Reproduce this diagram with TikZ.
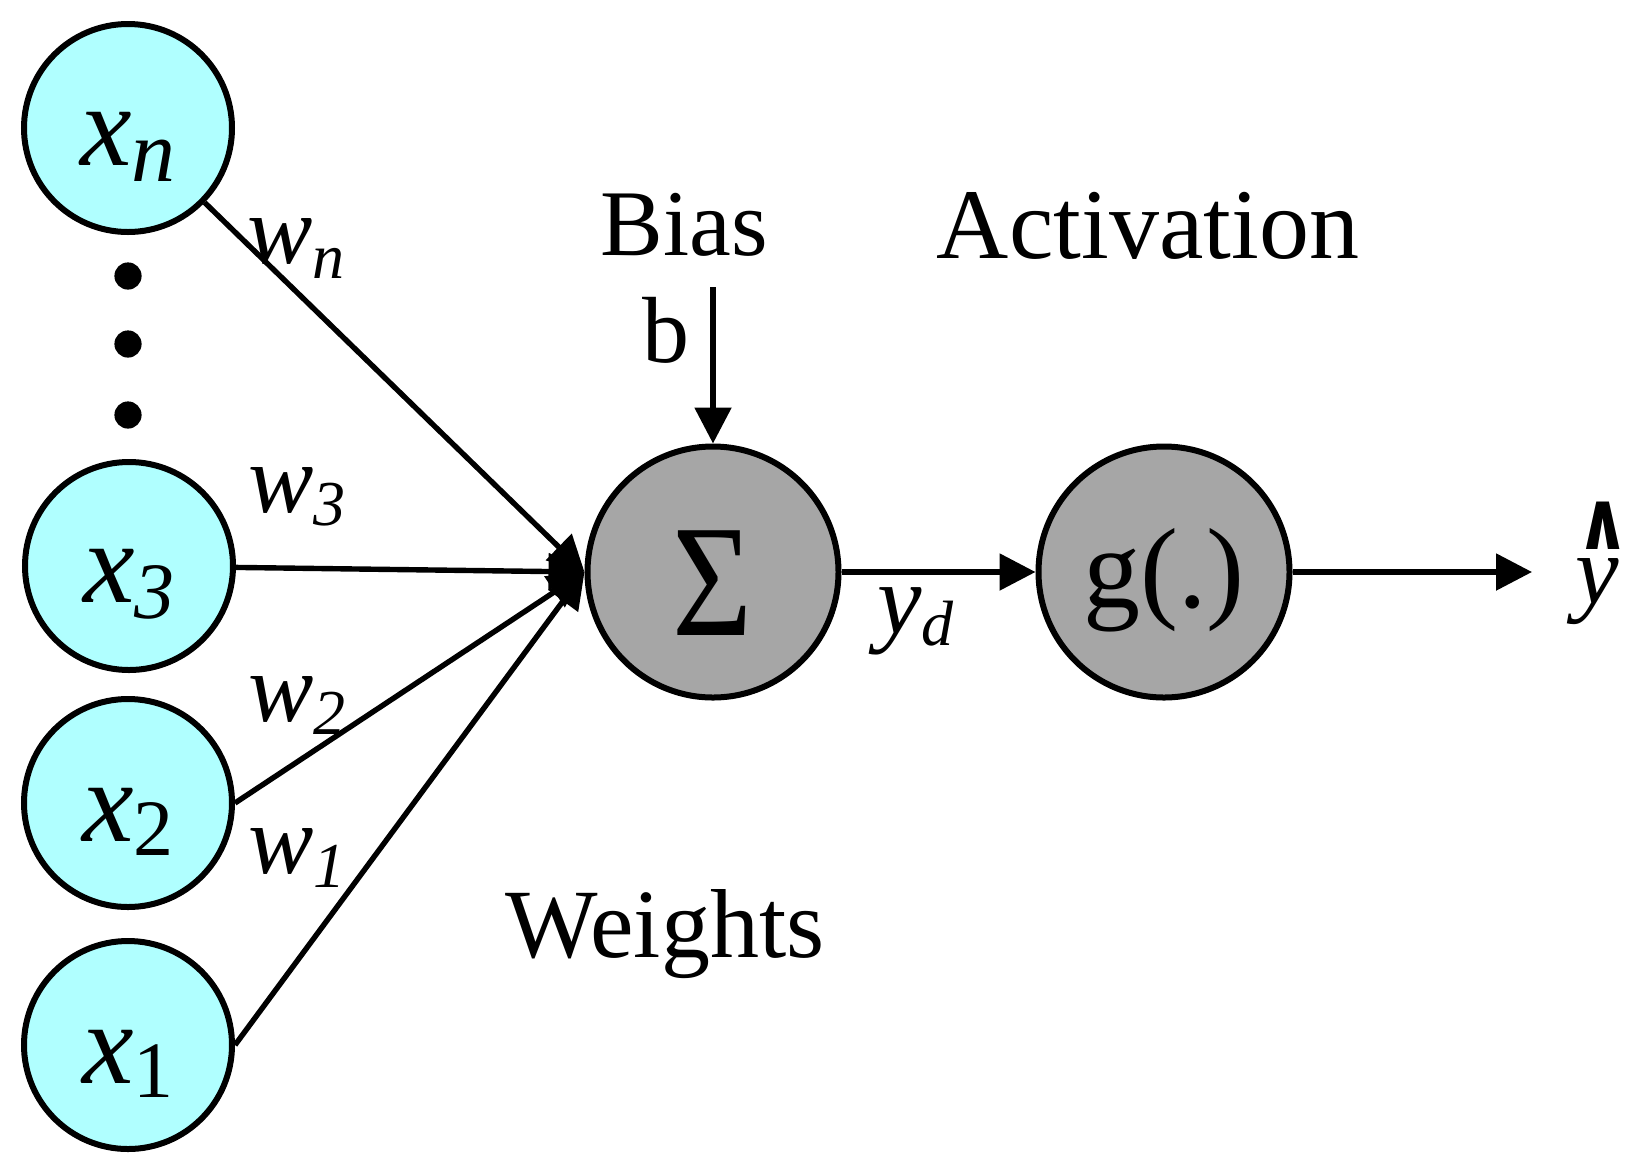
\documentclass[tikz,border=0pt]{standalone}
\usepackage{fontspec}
\setmainfont{Liberation Serif}
\newfontfamily\hatfont{DejaVu Sans}
\usetikzlibrary{arrows.meta}

\definecolor{incyan}{RGB}{176,255,255}
\definecolor{sumgray}{RGB}{166,166,166}
% lowered subscript: size, drop, text
\newcommand{\sublow}[3]{{\fontsize{#1}{#1}\selectfont\raisebox{-#2}{#3}}}

\tikzset{
  innode/.style={circle,draw,line width=3pt,fill=incyan,minimum size=104pt,inner sep=0pt},
  opnode/.style={circle,draw,line width=3pt,fill=sumgray,minimum size=125.5pt,inner sep=0pt},
  arr/.style={line width=2.7pt,-{Triangle[length=18pt,width=18pt]}},
  wlab/.style={anchor=base west,inner sep=0pt,font=\fontsize{49}{49}\selectfont\itshape},
  txt/.style={anchor=base,inner sep=0pt},
}

\begin{document}
\begin{tikzpicture}[x=0.5pt,y=0.5pt,yscale=-1,xscale=1]
\useasboundingbox (0,0) rectangle (1643,1174);

% Input nodes
\node[innode] (xn) at (128,128) {\smash{\raisebox{-18.5pt}{\fontsize{58}{58}\selectfont\textit{x}\sublow{44}{8pt}{\textit{n}}}}};
\node[innode] (x3) at (129,566) {\smash{\raisebox{-18pt}{\fontsize{58}{58}\selectfont\textit{x}\sublow{40}{8pt}{\textit{3}}}}};
\node[innode] (x2) at (128,803) {\smash{\raisebox{-19pt}{\fontsize{58}{58}\selectfont\textit{x}\sublow{40}{7pt}{2}}}};
\node[innode] (x1) at (128,1045) {\smash{\raisebox{-19pt}{\fontsize{58}{58}\selectfont\textit{x}\sublow{40}{7pt}{1}}}};

% dots
\foreach \dy in {276,344,415}
  \fill (128,\dy) circle (6.8pt);

% Sum and activation
\node[opnode] (sig) at (713,572) {\smash{\raisebox{-31.5pt}{\fontsize{80}{80}\selectfont\scalebox{0.86}[1]{Σ}}}};
\node[opnode] (act) at (1164,572) {\smash{\raisebox{-17.5pt}{\fontsize{57}{57}\selectfont g(.)}}};

% Weighted inputs
\draw[arr] (xn) -- (sig.west);
\draw[arr] (x3) -- (sig.west);
\draw[arr] (x2.east) -- (sig.west);
\draw[arr] (x1.east) -- (sig.west);

% Bias
\coordinate (bin) at (713,287);
\draw[arr] (bin) -- (sig.north);

% y_d and output
\draw[arr] (sig) -- (act);
\coordinate (out) at (1532,572);
\draw[arr] (act) -- (out);

% Text Node
\node[wlab] (wn) at (247,263) {w\sublow{32}{7.5pt}{n}};
\node[wlab] (w3) at (248,512) {w\sublow{32}{6.5pt}{3}};
\node[wlab] (w2) at (248,721) {w\sublow{32}{6.5pt}{2}};
\node[wlab] (w1) at (248,873) {w\sublow{32}{7pt}{1}};
\node[wlab,font=\fontsize{50}{50}\selectfont\itshape] (yd) at (877,633) {y\sublow{32}{6pt}{d}};
% Text Node
\node[wlab] (yhat) at (1575,603) {y\kern-8pt\makebox[0pt]{\raisebox{27pt}{\scalebox{0.8}[1]{\hatfont\upshape\bfseries\fontsize{41}{41}\selectfont ∧}}}\kern8pt};
% Text Node
\node[txt,font=\fontsize{47}{47}\selectfont] (bias) at (684,255) {Bias};
\node[txt,font=\fontsize{47}{47}\selectfont] (bb) at (666,362) {b};
\node[txt,font=\fontsize{50}{50}\selectfont] (actxt) at (1148,258) {Activation};
\node[txt,font=\fontsize{49}{49}\selectfont] (wts) at (665,957) {Weights};

\end{tikzpicture}
\end{document}
